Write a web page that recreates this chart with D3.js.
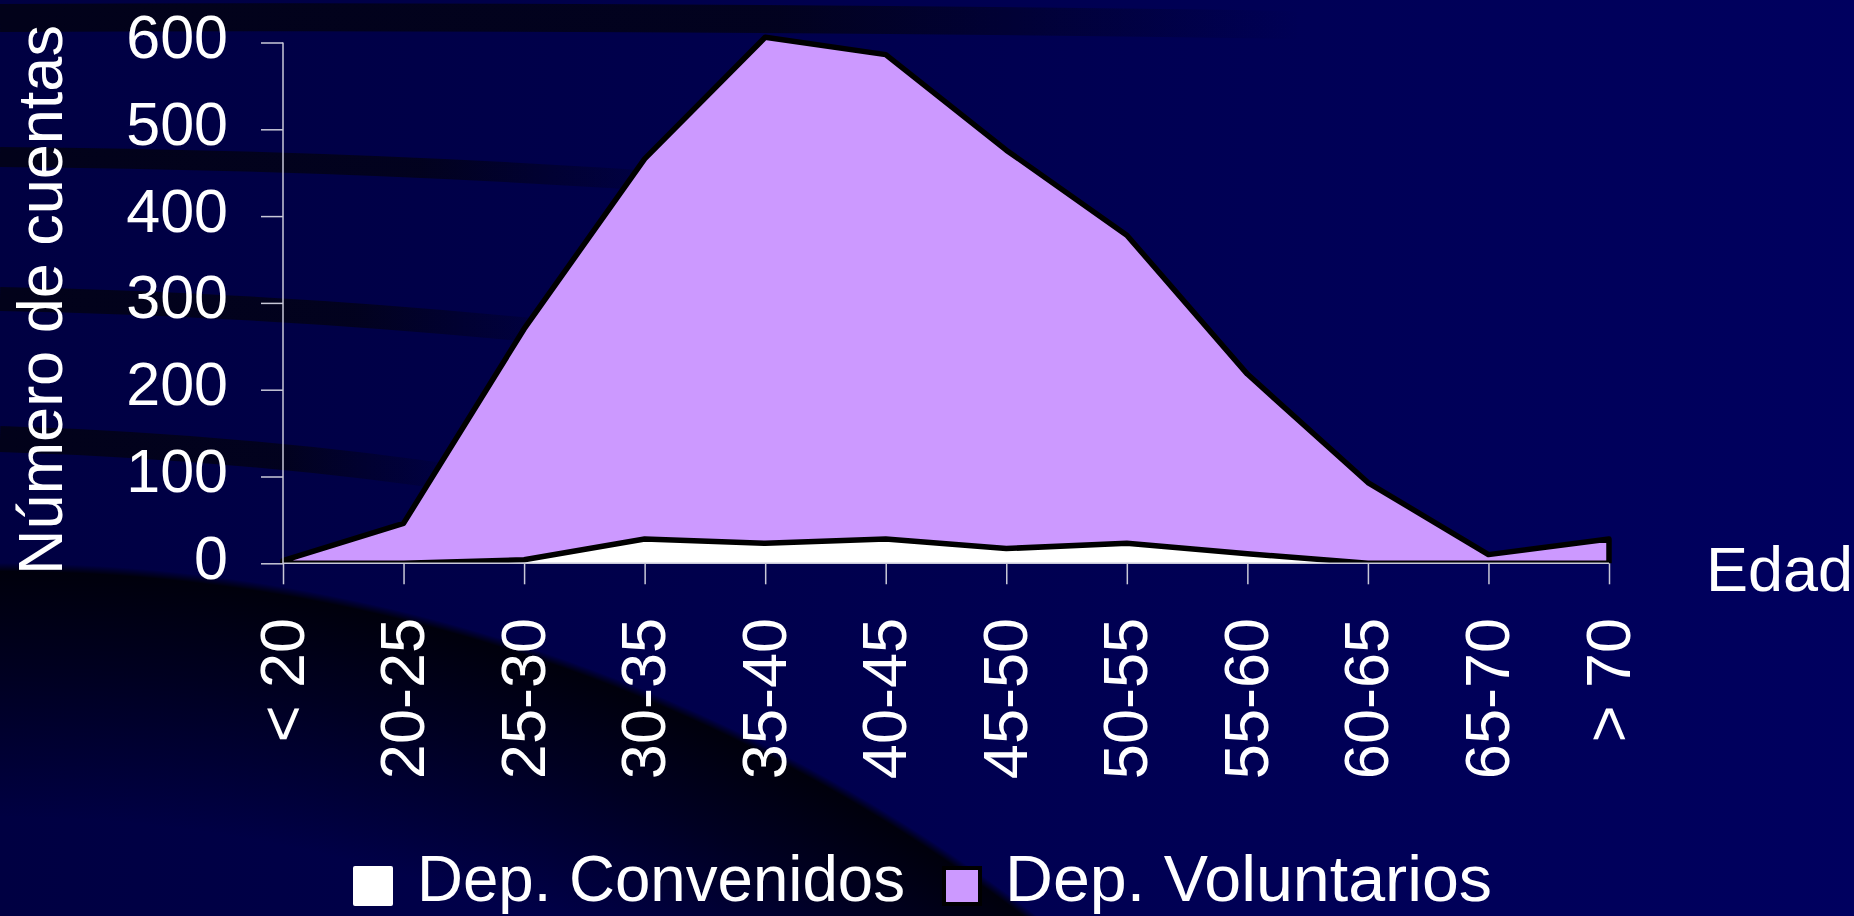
<!DOCTYPE html>
<html>
<head>
<meta charset="utf-8">
<script src="https://cdn.jsdelivr.net/npm/d3@7"></script>
<style>
  html, body { margin: 0; padding: 0; background: #00004c; overflow: hidden; }
  svg { display: block; }
  text { font-family: "Liberation Sans", Arial, sans-serif; fill: #ffffff; }
</style>
</head>
<body>
<svg id="chart" width="1854" height="916"></svg>
<script>
// ---- data ----
const categories = ["< 20", "20-25", "25-30", "30-35", "35-40", "40-45", "45-50", "50-55", "55-60", "60-65", "65-70", "> 70"];
const convenidos = [0, 0, 4, 28, 23, 28, 17, 23, 11, 0, 0, 0];
const voluntarios = [3, 46, 266, 438, 583, 558, 459, 355, 207, 93, 10, 28];
const seriesNames = ["Dep. Convenidos", "Dep. Voluntarios"];
const seriesColors = ["#ffffff", "#cc99ff"];
const yTicks = [0, 100, 200, 300, 400, 500, 600];
const yTitle = "Número de cuentas";
const xTitle = "Edad";

const W = 1854, H = 916;
const svg = d3.select("#chart");
const defs = svg.append("defs");

// ---- background ----
const bg = defs.append("linearGradient").attr("id", "bgGrad")
  .attr("x1", 0).attr("y1", 0).attr("x2", 1).attr("y2", 0);
bg.append("stop").attr("offset", 0).attr("stop-color", "#000042");
bg.append("stop").attr("offset", 0.45).attr("stop-color", "#00004e");
bg.append("stop").attr("offset", 1).attr("stop-color", "#00005f");
svg.append("rect").attr("width", W).attr("height", H).attr("fill", "url(#bgGrad)");

const ring = defs.append("radialGradient").attr("id", "ringGrad")
  .attr("gradientUnits", "userSpaceOnUse")
  .attr("cx", 0).attr("cy", 2263).attr("r", 1700);
ring.append("stop").attr("offset", 0).attr("stop-color", "#000010").attr("stop-opacity", 0);
ring.append("stop").attr("offset", 0.85).attr("stop-color", "#000010").attr("stop-opacity", 0);
ring.append("stop").attr("offset", 0.94).attr("stop-color", "#000010").attr("stop-opacity", 0.7);
ring.append("stop").attr("offset", 0.995).attr("stop-color", "#00000c").attr("stop-opacity", 1);
ring.append("stop").attr("offset", 1).attr("stop-color", "#00000c").attr("stop-opacity", 0);
svg.append("circle").attr("cx", 0).attr("cy", 2263).attr("r", 1700).attr("fill", "url(#ringGrad)");

const bands = [
  { d: "M0,18 Q650,15 1300,25", w: 28, end: 1300 },
  { d: "M0,157 Q360,160 700,184", w: 20, end: 700 },
  { d: "M0,299 Q300,305 590,336", w: 24, end: 590 },
  { d: "M0,439 Q250,447 470,480", w: 26, end: 470 }
];
bands.forEach((b, i) => {
  const g = defs.append("linearGradient").attr("id", "band" + i)
    .attr("gradientUnits", "userSpaceOnUse")
    .attr("x1", 0).attr("y1", 0).attr("x2", b.end).attr("y2", 0);
  g.append("stop").attr("offset", 0).attr("stop-color", "#02021a").attr("stop-opacity", 1);
  g.append("stop").attr("offset", 0.6).attr("stop-color", "#02021a").attr("stop-opacity", 0.9);
  g.append("stop").attr("offset", 1).attr("stop-color", "#02021a").attr("stop-opacity", 0);
  svg.append("path").attr("d", b.d).attr("fill", "none")
    .attr("stroke", "url(#band" + i + ")").attr("stroke-width", b.w);
});

// ---- scales ----
const x = d3.scalePoint().domain(categories).range([283, 1609]);
const y = d3.scaleLinear().domain([0, 600]).range([563.3, 42.5]);

// ---- stacked areas ----
const table = categories.map((c, i) => ({ cat: c, conv: convenidos[i], vol: voluntarios[i] }));
const stack = d3.stack().keys(["conv", "vol"]);
const layers = stack(table);

defs.append("clipPath").attr("id", "plotClip")
  .append("rect").attr("x", 270).attr("y", 0).attr("width", 1360).attr("height", y(0));

const area = d3.area()
  .x(d => x(d.data.cat))
  .y0(d => y(d[0]))
  .y1(d => y(d[1]));

const plot = svg.append("g").attr("clip-path", "url(#plotClip)");
plot.selectAll("path.layer").data(layers).join("path")
  .attr("class", "layer")
  .attr("d", area)
  .attr("fill", (d, i) => seriesColors[i])
  .attr("stroke", (d, i) => i === 1 ? "#000000" : "none")
  .attr("stroke-width", 5.5)
  .attr("stroke-linejoin", "round");

// ---- axes ----
const axisColor = "#c8c8d8";
const yAxis = svg.append("g").attr("transform", "translate(283,0)")
  .call(d3.axisLeft(y).tickValues(yTicks).tickSize(22).tickPadding(0).tickFormat(d3.format("d")));
yAxis.select(".domain").attr("stroke", axisColor).attr("stroke-width", 1.5).attr("d", `M0,${y(600)}V${y(0)}`);
yAxis.selectAll(".tick line").attr("stroke", axisColor).attr("stroke-width", 1.5);
yAxis.selectAll(".tick text")
  .attr("x", -55).attr("dy", 15).attr("y", 0)
  .attr("text-anchor", "end")
  .style("font-size", "61px").style("font-family", "'Liberation Sans', Arial, sans-serif")
  .attr("fill", "#ffffff");

const xAxis = svg.append("g").attr("transform", `translate(0,${y(0)})`)
  .call(d3.axisBottom(x).tickSize(21).tickPadding(0));
xAxis.select(".domain").attr("stroke", axisColor).attr("stroke-width", 1.5).attr("d", `M283,0H1609`);
xAxis.selectAll(".tick line").attr("stroke", axisColor).attr("stroke-width", 1.5);
xAxis.selectAll(".tick text")
  .attr("transform", "rotate(-90)")
  .attr("x", -(618 - y(0))).attr("y", 20).attr("dy", 0)
  .attr("text-anchor", "end")
  .style("font-size", "63px").style("font-family", "'Liberation Sans', Arial, sans-serif")
  .attr("fill", "#ffffff");

// ---- titles ----
svg.append("text")
  .attr("transform", "translate(62,300) rotate(-90)")
  .attr("text-anchor", "middle")
  .style("font-size", "63px")
  .text(yTitle);

svg.append("text")
  .attr("x", 1706).attr("y", 591)
  .style("font-size", "63px")
  .text(xTitle);

// ---- legend ----
const legendX = [353, 942];
const legendTextX = [417, 1005];
const legendLen = [488, 487];
seriesNames.forEach((name, i) => {
  if (i === 1) {
    svg.append("rect").attr("x", legendX[i] + 2).attr("y", 868).attr("width", 36).attr("height", 36)
      .attr("fill", seriesColors[i]).attr("stroke", "#000000").attr("stroke-width", 4);
  } else {
    svg.append("rect").attr("x", legendX[i]).attr("y", 866).attr("width", 40).attr("height", 40)
      .attr("rx", 2).attr("fill", seriesColors[i]);
  }
  svg.append("text").attr("x", legendTextX[i]).attr("y", 901)
    .attr("textLength", legendLen[i]).attr("lengthAdjust", "spacingAndGlyphs")
    .style("font-size", "64px").text(name);
});
</script>
</body>
</html>
